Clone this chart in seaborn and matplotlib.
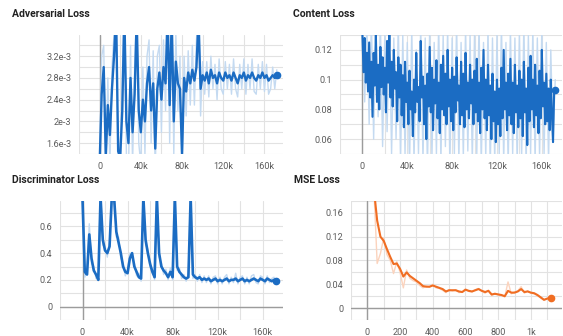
import numpy as np
import matplotlib
matplotlib.use("Agg")
import matplotlib.pyplot as plt
from matplotlib.ticker import MultipleLocator, FuncFormatter
import seaborn as sns

# ---------------- data ----------------
# Adversarial loss (values in units of 1e-3), logged every 2k steps
adv_steps = list(range(0, 174000, 2000))
adv_smooth = [
    1.20, 2.50, 3.00, 1.35, 2.30, 1.75, 2.60, 3.20, 4.00, 1.45,
    1.35, 2.20, 4.00, 2.00, 1.60, 2.80, 1.80, 2.50, 3.90, 2.20,
    1.80, 2.40, 2.00, 2.70, 3.00, 2.20, 2.70, 1.50, 2.60, 2.90,
    2.40, 3.00, 2.70, 4.00, 2.30, 3.90, 2.00, 3.10, 2.70, 2.60,
    1.40, 2.80, 2.55, 2.90, 2.70, 2.95, 2.75, 3.00, 3.90, 2.60,
    2.85, 2.75, 2.90, 2.70, 2.95, 2.80, 2.85, 2.70, 2.90, 2.80,
    2.75, 2.90, 2.80, 2.85, 2.75, 2.90, 2.80, 2.70, 2.85, 2.80,
    2.90, 2.75, 2.85, 2.80, 2.90, 2.80, 2.75, 2.85, 2.80, 2.90,
    2.80, 2.85, 2.75, 2.80, 2.85, 2.80, 2.85,
]
adv_raw = [
    1.00, 3.20, 3.40, 1.00, 2.80, 1.20, 3.00, 3.60, 4.20, 1.00,
    1.00, 2.80, 4.20, 1.40, 1.00, 3.40, 1.20, 3.00, 4.20, 1.60,
    1.20, 3.00, 1.40, 3.20, 3.50, 1.60, 3.30, 1.00, 3.20, 3.40,
    1.80, 3.50, 2.20, 4.20, 1.60, 4.20, 1.40, 3.60, 2.20, 3.20,
    1.00, 3.20, 2.10, 3.30, 2.30, 3.40, 2.30, 3.50, 4.20, 2.10,
    3.10, 2.50, 3.10, 2.45, 3.20, 2.60, 3.05, 2.40, 3.15, 2.60,
    2.50, 3.10, 2.60, 3.05, 2.50, 3.15, 2.60, 2.45, 3.05, 2.60,
    3.15, 2.50, 3.05, 2.60, 3.15, 2.55, 2.50, 3.05, 2.60, 3.10,
    2.55, 3.05, 2.50, 2.60, 3.00, 2.60, 2.95,
]

# Content loss: smoothed curve every 1k steps, raw values every 2k steps
content_steps = list(range(0, 173000, 1000))
content_smooth = [
    0.130, 0.105, 0.128, 0.098, 0.118, 0.092, 0.125, 0.088, 0.112, 0.075,
    0.118, 0.096, 0.130, 0.085, 0.110, 0.080, 0.122, 0.095, 0.115, 0.090,
    0.108, 0.078, 0.126, 0.098, 0.130, 0.088, 0.112, 0.082, 0.120, 0.094,
    0.105, 0.072, 0.115, 0.088, 0.110, 0.076, 0.103, 0.068, 0.112, 0.085,
    0.098, 0.070, 0.106, 0.080, 0.092, 0.062, 0.100, 0.078, 0.118, 0.085,
    0.095, 0.072, 0.126, 0.088, 0.102, 0.070, 0.096, 0.060, 0.104, 0.082,
    0.122, 0.078, 0.108, 0.066, 0.100, 0.084, 0.113, 0.074, 0.098, 0.064,
    0.110, 0.080, 0.116, 0.076, 0.104, 0.070, 0.120, 0.082, 0.100, 0.072,
    0.108, 0.066, 0.102, 0.078, 0.115, 0.086, 0.096, 0.070, 0.112, 0.076,
    0.104, 0.068, 0.118, 0.080, 0.098, 0.074, 0.110, 0.084, 0.100, 0.070,
    0.106, 0.078, 0.114, 0.072, 0.098, 0.064, 0.108, 0.080, 0.120, 0.074,
    0.100, 0.066, 0.110, 0.076, 0.096, 0.060, 0.104, 0.072, 0.092, 0.058,
    0.100, 0.070, 0.094, 0.062, 0.108, 0.074, 0.120, 0.080, 0.098, 0.066,
    0.104, 0.076, 0.114, 0.070, 0.098, 0.064, 0.110, 0.078, 0.096, 0.068,
    0.106, 0.074, 0.100, 0.062, 0.112, 0.078, 0.094, 0.056, 0.108, 0.072,
    0.116, 0.080, 0.100, 0.068, 0.110, 0.076, 0.096, 0.064, 0.106, 0.074,
    0.120, 0.082, 0.098, 0.070, 0.104, 0.072, 0.094, 0.066, 0.100, 0.076,
    0.058, 0.092, 0.093,
]
content_raw_steps = list(range(0, 174000, 2000))
content_raw = [
    0.140, 0.085, 0.135, 0.070, 0.140, 0.060, 0.138, 0.075, 0.140, 0.055,
    0.132, 0.065, 0.140, 0.050, 0.128, 0.060, 0.138, 0.045, 0.130, 0.050,
    0.125, 0.040, 0.135, 0.045, 0.120, 0.050, 0.138, 0.045, 0.128, 0.040,
    0.135, 0.048, 0.125, 0.050, 0.138, 0.045, 0.130, 0.055, 0.135, 0.042,
    0.128, 0.050, 0.138, 0.045, 0.125, 0.048, 0.135, 0.052, 0.130, 0.045,
    0.132, 0.050, 0.138, 0.042, 0.125, 0.048, 0.135, 0.040, 0.128, 0.045,
    0.130, 0.050, 0.138, 0.045, 0.125, 0.042, 0.135, 0.050, 0.128, 0.045,
    0.132, 0.048, 0.138, 0.042, 0.130, 0.050, 0.135, 0.045, 0.128, 0.048,
    0.135, 0.050, 0.125, 0.045, 0.120, 0.060, 0.100,
]

# Discriminator loss, logged every 2k steps
disc_steps = list(range(0, 174000, 2000))
disc_smooth = [
    0.80, 0.26, 0.24, 0.54, 0.36, 0.27, 0.24, 0.20, 0.82, 0.50,
    0.42, 0.40, 0.45, 0.82, 0.82, 0.56, 0.48, 0.40, 0.30, 0.26,
    0.25, 0.36, 0.40, 0.30, 0.26, 0.22, 0.21, 0.82, 0.50, 0.40,
    0.32, 0.26, 0.22, 0.82, 0.40, 0.30, 0.27, 0.25, 0.22, 0.26,
    0.22, 0.82, 0.30, 0.26, 0.24, 0.22, 0.21, 0.22, 0.82, 0.24,
    0.22, 0.21, 0.22, 0.20, 0.21, 0.20, 0.21, 0.19, 0.20, 0.21,
    0.19, 0.20, 0.19, 0.20, 0.21, 0.19, 0.20, 0.20, 0.21, 0.19,
    0.20, 0.21, 0.19, 0.20, 0.19, 0.20, 0.21, 0.20, 0.19, 0.21,
    0.20, 0.19, 0.21, 0.20, 0.19, 0.20, 0.19,
]
disc_raw = [
    0.85, 0.22, 0.28, 0.62, 0.32, 0.30, 0.21, 0.23, 0.90, 0.46,
    0.45, 0.37, 0.48, 0.90, 0.90, 0.52, 0.52, 0.36, 0.33, 0.23,
    0.28, 0.40, 0.37, 0.33, 0.23, 0.25, 0.19, 0.90, 0.46, 0.43,
    0.29, 0.29, 0.20, 0.90, 0.37, 0.33, 0.24, 0.28, 0.20, 0.29,
    0.20, 0.90, 0.27, 0.29, 0.21, 0.24, 0.19, 0.25, 0.90, 0.21,
    0.24, 0.19, 0.24, 0.18, 0.23, 0.18, 0.23, 0.17, 0.22, 0.23,
    0.17, 0.22, 0.17, 0.22, 0.24, 0.17, 0.22, 0.18, 0.25, 0.17,
    0.22, 0.23, 0.17, 0.22, 0.17, 0.23, 0.24, 0.18, 0.17, 0.23,
    0.22, 0.17, 0.23, 0.18, 0.21, 0.22, 0.18,
]

# MSE loss, logged every 20 steps
mse_steps = list(range(40, 1140, 20))
mse_smooth = [
    0.200, 0.147, 0.120, 0.113, 0.099, 0.086, 0.074, 0.075, 0.066, 0.053,
    0.060, 0.054, 0.050, 0.046, 0.042, 0.037, 0.036, 0.036, 0.038, 0.036,
    0.034, 0.032, 0.028, 0.030, 0.030, 0.030, 0.028, 0.027, 0.031, 0.029,
    0.028, 0.030, 0.032, 0.029, 0.027, 0.029, 0.023, 0.024, 0.023, 0.022,
    0.020, 0.029, 0.026, 0.026, 0.028, 0.032, 0.027, 0.028, 0.026, 0.025,
    0.022, 0.018, 0.014, 0.016, 0.017,
]
mse_raw = [
    0.200, 0.075, 0.092, 0.118, 0.090, 0.080, 0.058, 0.078, 0.060, 0.034,
    0.064, 0.050, 0.046, 0.044, 0.038, 0.034, 0.037, 0.035, 0.040, 0.034,
    0.033, 0.030, 0.026, 0.031, 0.029, 0.031, 0.026, 0.027, 0.032, 0.028,
    0.027, 0.031, 0.033, 0.028, 0.025, 0.030, 0.021, 0.025, 0.022, 0.021,
    0.019, 0.044, 0.024, 0.027, 0.029, 0.036, 0.025, 0.029, 0.025, 0.024,
    0.021, 0.017, 0.013, 0.016, 0.018,
]

# ---------------- style ----------------
sns.set_style("white")
plt.rcParams["font.family"] = ["Roboto", "DejaVu Sans"]

BLUE = "#1b6cc3"
BLUE_LIGHT = "#c4daf1"
ORANGE = "#f06d22"
ORANGE_LIGHT = "#fbd3bd"
GRID = "#e2e2e2"
ZERO = "#9c9c9c"
TEXT = "#5c5c5c"

fig = plt.figure(figsize=(5.63, 3.36), dpi=100)
W, H = 563.0, 336.0


def make_axes(left, right, top, bottom):
    return fig.add_axes([left / W, 1 - bottom / H, (right - left) / W, (bottom - top) / H])


def stepped_formatter(step, fmt):
    def _f(v, pos):
        k = v / step
        if abs(k - round(k)) > 1e-6:
            return ""
        return fmt(round(k) * step)
    return FuncFormatter(_f)


def k_label(v):
    v = int(round(v))
    if v == 0:
        return "0"
    return f"{v // 1000}k"


def style_axes(ax, xlim, ylim, xgrid, ygrid, xlab_step, ylab_step, xfmt, yfmt):
    ax.set_xlim(*xlim)
    ax.set_ylim(*ylim)
    ax.xaxis.set_major_locator(MultipleLocator(xgrid))
    ax.yaxis.set_major_locator(MultipleLocator(ygrid))
    ax.xaxis.set_major_formatter(stepped_formatter(xlab_step, xfmt))
    ax.yaxis.set_major_formatter(stepped_formatter(ylab_step, yfmt))
    ax.grid(True, color=GRID, linewidth=0.8)
    ax.set_axisbelow(True)
    for s in ax.spines.values():
        s.set_visible(False)
    ax.tick_params(axis="both", length=3, width=0.8, color=GRID,
                   labelsize=6.6, labelcolor=TEXT, pad=2.5)
    ax.set_xlabel("")
    ax.set_ylabel("")


def draw_series(ax, xs_raw, ys_raw, xs, ys, dark, light, lw=1.7):
    sns.lineplot(x=xs_raw, y=ys_raw, ax=ax, color=light, linewidth=1.0,
                 estimator=None, sort=False)
    sns.lineplot(x=xs, y=ys, ax=ax, color=dark, linewidth=lw,
                 estimator=None, sort=False)
    ax.plot(xs[-1], ys[-1], marker="o", markersize=4.5, color=dark, zorder=5)


# Adversarial loss
ax1 = make_axes(79, 283, 35, 154)
adv_s = [v * 1e-3 for v in adv_smooth]
adv_r = [v * 1e-3 for v in adv_raw]
draw_series(ax1, adv_steps, adv_r, adv_steps, adv_s, BLUE, BLUE_LIGHT)
ax1.axvline(0, color=ZERO, linewidth=1.0, zorder=1)
style_axes(ax1, (-20000, 178000), (1.4e-3, 3.59e-3), 20000, 0.2e-3, 40000, 0.4e-3,
           k_label, lambda v: f"{v * 1e3:g}e-3")

# Content loss
ax2 = make_axes(340, 562, 35, 154)
draw_series(ax2, content_raw_steps, content_raw, content_steps, content_smooth,
            BLUE, BLUE_LIGHT, lw=1.5)
ax2.axvline(0, color=ZERO, linewidth=1.0, zorder=1)
style_axes(ax2, (-20000, 178000), (0.05, 0.13), 20000, 0.01, 40000, 0.02,
           k_label, lambda v: f"{v:g}")

# Discriminator loss
ax3 = make_axes(60, 283, 201, 320)
draw_series(ax3, disc_steps, disc_raw, disc_steps, disc_smooth, BLUE, BLUE_LIGHT, lw=1.9)
ax3.axvline(0, color=ZERO, linewidth=1.0, zorder=1)
ax3.axhline(0, color=ZERO, linewidth=1.0, zorder=1)
style_axes(ax3, (-20000, 178000), (-0.1, 0.79), 20000, 0.1, 40000, 0.2,
           k_label, lambda v: f"{v:g}")

# MSE loss
ax4 = make_axes(351, 562, 201, 320)
draw_series(ax4, mse_steps, mse_raw, mse_steps, mse_smooth, ORANGE, ORANGE_LIGHT, lw=1.5)
ax4.axvline(0, color=ZERO, linewidth=1.0, zorder=1)
ax4.axhline(0, color=ZERO, linewidth=1.0, zorder=1)
style_axes(ax4, (-100, 1190), (-0.02, 0.18), 100, 0.02, 200, 0.04,
           lambda v: "1k" if round(v) == 1000 else f"{int(round(v))}",
           lambda v: f"{v:g}")

# Panel titles
title_kw = dict(fontsize=7.5, fontweight="bold", color="#222222", va="center", ha="left")
fig.text(12 / W, 1 - 14 / H, "Adversarial Loss", **title_kw)
fig.text(293 / W, 1 - 14 / H, "Content Loss", **title_kw)
fig.text(12 / W, 1 - 180 / H, "Discriminator Loss", **title_kw)
fig.text(294 / W, 1 - 180 / H, "MSE Loss", **title_kw)

fig.savefig("out.png", dpi=100)
